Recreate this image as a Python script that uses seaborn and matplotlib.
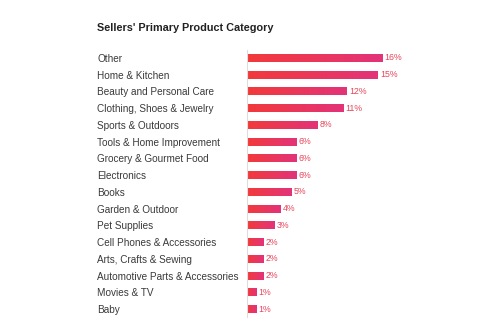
import matplotlib
matplotlib.use("Agg")
import matplotlib.pyplot as plt
import seaborn as sns
import numpy as np
import pandas as pd
from matplotlib.colors import LinearSegmentedColormap

categories = ["Other", "Home & Kitchen", "Beauty and Personal Care",
              "Clothing, Shoes & Jewelry", "Sports & Outdoors",
              "Tools & Home Improvement", "Grocery & Gourmet Food",
              "Electronics", "Books", "Garden & Outdoor", "Pet Supplies",
              "Cell Phones & Accessories", "Arts, Crafts & Sewing",
              "Automotive Parts & Accessories", "Movies & TV", "Baby"]
values = [16.0, 15.5, 11.8, 11.4, 8.4, 5.9, 5.9, 5.9, 5.3, 4.0, 3.3,
          1.9, 1.9, 1.9, 1.1, 1.1]
value_labels = ["16%", "15%", "12%", "11%", "8%", "6%", "6%", "6%", "5%",
                "4%", "3%", "2%", "2%", "2%", "1%", "1%"]
title = "Sellers' Primary Product Category"

sns.set_theme(style="white")
plt.rcParams['font.family'] = ['Liberation Sans', 'DejaVu Sans']

W, H = 490, 327
fig = plt.figure(figsize=(W / 100, H / 100), dpi=100)
ax_left, ax_right = 247, 430
row_top, row_bot = 58, 309
step = (row_bot - row_top) / (len(categories) - 1)
top = row_top - step / 2
bot = row_bot + step / 2
ax = fig.add_axes([ax_left / W, 1 - bot / H, (ax_right - ax_left) / W, (bot - top) / H])

df = pd.DataFrame({"category": categories, "value": values})
sns.barplot(data=df, y="category", x="value", ax=ax, color="#ee3a46",
            width=0.48, orient="h")

px_per_pct = 8.45
ax.set_xlim(0, (ax_right - ax_left) / px_per_pct)
ax.set_ylim(len(categories) - 0.5, -0.5)

cmap = LinearSegmentedColormap.from_list("g", ["#f23a3a", "#e3337a"])
grad = np.linspace(0, 1, 256).reshape(1, -1)
for p in ax.patches:
    x0, y0 = p.get_x(), p.get_y()
    w, h = p.get_width(), p.get_height()
    im = ax.imshow(grad, cmap=cmap, aspect="auto", extent=[x0, x0 + w, y0 + h, y0],
                   zorder=p.get_zorder() + 0.1, interpolation="bicubic")
    im.set_clip_path(p)
ax.set_xlim(0, (ax_right - ax_left) / px_per_pct)
ax.set_ylim(len(categories) - 0.5, -0.5)

for i, (v, lab) in enumerate(zip(values, value_labels)):
    ax.text(v + 0.25, i, lab, va="center", ha="left", fontsize=6.3, color="#e8455a")

ax.set_xlabel("")
ax.set_ylabel("")
ax.set_xticks([])
for s in ["top", "right", "bottom"]:
    ax.spines[s].set_visible(False)
ax.spines["left"].set_color("#dddddd")
ax.spines["left"].set_linewidth(0.8)
ax.tick_params(axis="y", length=0, pad=(ax_left - 97) * 0.72, labelsize=7.2,
               labelcolor="#3a3a3a")
for t in ax.get_yticklabels():
    t.set_ha("left")

fig.text(97 / W, 1 - 28 / H, title, fontsize=7.8, fontweight="bold",
         color="#222222", ha="left", va="center")

fig.savefig("out.png", dpi=100)
